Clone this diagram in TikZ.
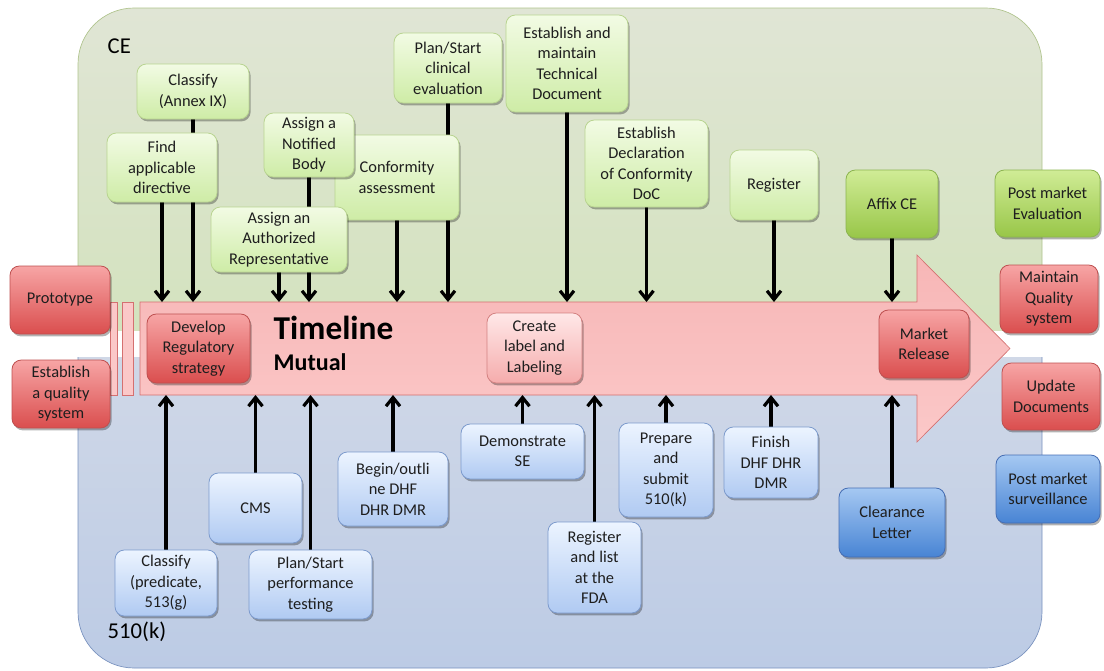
\documentclass[tikz,border=0pt]{standalone}
\usepackage{fontspec}
\setmainfont{Carlito}
\usetikzlibrary{arrows.meta,shadows}
\pgfdeclarelayer{panel}
\pgfdeclarelayer{links}
\pgfsetlayers{panel,links,main}

% palette
\definecolor{ceTop}{RGB}{224,229,213}
\definecolor{ceBot}{RGB}{208,226,184}
\definecolor{ceEdge}{RGB}{175,195,140}
\definecolor{usTop}{RGB}{214,220,232}
\definecolor{usBot}{RGB}{188,203,229}
\definecolor{usEdge}{RGB}{120,145,190}
\definecolor{tlTop}{RGB}{247,182,182}
\definecolor{tlBot}{RGB}{251,200,200}
\definecolor{tlEdge}{RGB}{212,112,112}
\definecolor{gTop}{RGB}{242,251,228}
\definecolor{gBot}{RGB}{206,236,166}
\definecolor{gEdge}{RGB}{185,212,145}
\definecolor{ggTop}{RGB}{208,236,150}
\definecolor{ggBot}{RGB}{152,198,72}
\definecolor{ggEdge}{RGB}{140,180,80}
\definecolor{rTop}{RGB}{247,165,165}
\definecolor{rBot}{RGB}{218,78,78}
\definecolor{rEdge}{RGB}{190,80,80}
\definecolor{pTop}{RGB}{255,232,232}
\definecolor{pBot}{RGB}{245,172,172}
\definecolor{pEdge}{RGB}{212,130,130}
\definecolor{bTop}{RGB}{236,244,255}
\definecolor{bBot}{RGB}{176,202,242}
\definecolor{bEdge}{RGB}{125,155,205}
\definecolor{bbTop}{RGB}{165,200,242}
\definecolor{bbBot}{RGB}{72,132,212}
\definecolor{bbEdge}{RGB}{70,110,180}
\definecolor{txt}{RGB}{30,30,30}

\tikzset{
  box/.style={rounded corners=7pt, draw, line width=0.6pt, align=center,
    inner sep=1pt, text=txt, font=\fontsize{12.3}{15.4}\selectfont,
    drop shadow={shadow xshift=1.2pt, shadow yshift=-1.8pt, opacity=0.3, fill=black}},
  gbox/.style={box, draw=gEdge, top color=gTop, bottom color=gBot},
  ggbox/.style={box, draw=ggEdge, top color=ggTop, bottom color=ggBot},
  rbox/.style={box, draw=rEdge, top color=rTop, bottom color=rBot},
  pbx/.style={box, draw=pEdge, top color=pTop, bottom color=pBot},
  bbox/.style={box, draw=bEdge, top color=bTop, bottom color=bBot},
  bbbox/.style={box, draw=bbEdge, top color=bbTop, bottom color=bbBot},
  link/.style={line width=2.4pt, black, -{Straight Barb[length=6.5pt,width=10.5pt]}},
  band/.style={line width=0.5pt}
}

% name, x1, y1, x2, y2 (pixel units), style, text
\newcommand{\tlbox}[7]{\node[#6, minimum width={(#4-#2)*0.75pt},
  minimum height={(#5-#3)*0.75pt}] (#1) at ({(#2+#4)/2},{(#3+#5)/2}) {#7};}

\begin{document}
\begin{tikzpicture}[x=0.75pt,y=-0.75pt]
\useasboundingbox (0,0) rectangle (1104,671);

% ---------- panels and timeline ----------
\begin{pgfonlayer}{panel}
  \begin{scope}
    \clip (0,0) rectangle (1104,330);
    \draw[band, draw=ceEdge, top color=ceTop, bottom color=ceBot, rounded corners=42pt]
      (78,8) rectangle (1042,420);
  \end{scope}
  \begin{scope}
    \clip (0,357) rectangle (1104,671);
    \draw[band, draw=usEdge, top color=usTop, bottom color=usBot, rounded corners=42pt]
      (78,260) rectangle (1042,668);
  \end{scope}
  \draw[band, draw=tlEdge, top color=tlTop, bottom color=tlBot]
    (140,302) -- (917,302) -- (917,255) -- (1010,348.5) -- (917,442) -- (917,395) -- (140,395) -- cycle;
  \draw[band, draw=tlEdge, fill=tlBot] (110,302) rectangle (117,395);
  \draw[band, draw=tlEdge, fill=tlBot] (122,302) rectangle (133,395);
  \coordinate (tltop) at (0,302);
  \coordinate (tlbot) at (0,395);
\end{pgfonlayer}

\node[anchor=west, text=black, font=\fontsize{17}{20}\selectfont] (celbl) at (103,46) {CE};
\node[anchor=west, text=black, font=\fontsize{17}{20}\selectfont] (kbl) at (103,632) {510(k)};
\node[anchor=west, text=black, font=\bfseries\fontsize{25}{28}\selectfont] (tltitle) at (269,328) {Timeline};
\node[anchor=west, text=black, font=\bfseries\fontsize{18}{21}\selectfont] (tlsub) at (269,362) {Mutual};

% ---------- CE steps ----------
\tlbox{cls9}{137}{64}{249}{119}{gbox}{Classify\\(Annex IX)}
\tlbox{find}{107}{133}{217}{202}{gbox}{Find\\applicable\\directive}
\tlbox{conf}{335}{135}{459}{220}{gbox}{Conformity\\assessment}
\tlbox{notif}{264}{113}{354}{177}{gbox}{Assign a\\Notified\\Body}
\tlbox{auth}{211}{207}{347}{272}{gbox}{Assign an\\Authorized\\Representative}
\tlbox{clin}{394}{33}{502}{103}{gbox}{Plan/Start\\clinical\\evaluation}
\tlbox{tech}{506}{15}{628}{112}{gbox}{Establish and\\maintain\\Technical\\Document}
\tlbox{doc}{585}{120}{708}{207}{gbox}{Establish\\Declaration\\of Conformity\\DoC}
\tlbox{reg}{730}{150}{818}{220}{gbox}{Register}
\tlbox{affix}{846}{170}{938}{238}{ggbox}{Affix CE}
\tlbox{pme}{995}{170}{1100}{237}{ggbox}{Post market\\Evaluation}

% ---------- shared steps ----------
\tlbox{proto}{10}{266}{110}{334}{rbox}{Prototype}
\tlbox{estq}{12}{360}{110}{428}{rbox}{Establish\\a quality\\system}
\tlbox{dev}{147}{314}{250}{383}{rbox}{Develop\\Regulatory\\strategy}
\tlbox{label}{487}{313}{582}{383}{pbx}{Create\\label and\\Labeling}
\tlbox{mkt}{879}{310}{969}{378}{rbox}{Market\\Release}
\tlbox{maint}{1000}{265}{1098}{333}{rbox}{Maintain\\Quality\\system}
\tlbox{upd}{1002}{363}{1100}{430}{rbox}{Update\\Documents}

% ---------- 510(k) steps ----------
\tlbox{cls513}{115}{550}{217}{616}{bbox}{Classify\\(predicate,\\513(g)}
\tlbox{cms}{209}{473}{302}{543}{bbox}{CMS}
\tlbox{perf}{249}{550}{372}{619}{bbox}{Plan/Start\\performance\\testing}
\tlbox{begin}{338}{452}{448}{526}{bbox}{Begin/outli\\ne DHF\\DHR DMR}
\tlbox{demo}{461}{424}{584}{479}{bbox}{Demonstrate\\SE}
\tlbox{fda}{548}{522}{641}{613}{bbox}{Register\\and list\\at the\\FDA}
\tlbox{prep}{619}{423}{713}{517}{bbox}{Prepare\\and\\submit\\510(k)}
\tlbox{fin}{724}{427}{818}{498}{bbox}{Finish\\DHF DHR\\DMR}
\tlbox{clear}{839}{488}{945}{557}{bbbox}{Clearance\\Letter}
\tlbox{pms}{996}{455}{1100}{523}{bbbox}{Post market\\surveillance}

% ---------- links into the timeline ----------
\begin{pgfonlayer}{links}
  \foreach \n in {cls9,find,conf,notif,auth,clin,tech,doc,reg,affix}
    \draw[link] (\n.south) -- (\n.south |- tltop);
  \foreach \n in {cls513,cms,perf,begin,demo,fda,prep,fin,clear}
    \draw[link] (\n.north) -- (\n.north |- tlbot);
\end{pgfonlayer}
\end{tikzpicture}
\end{document}
